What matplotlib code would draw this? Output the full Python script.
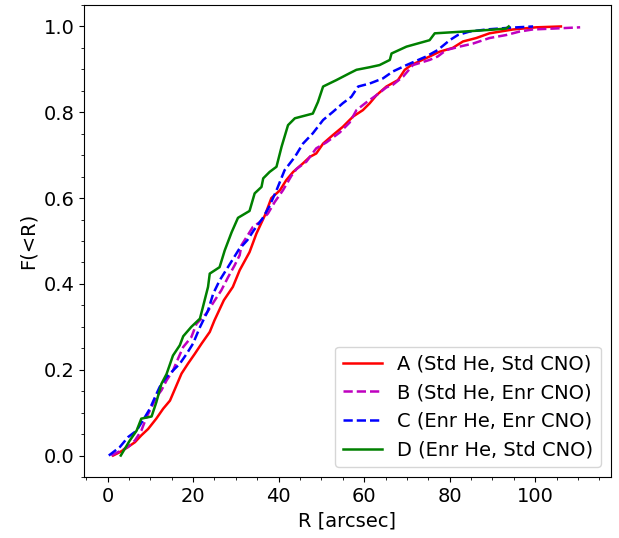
import numpy as np
import matplotlib
matplotlib.use("Agg")
import matplotlib.pyplot as plt

plt.rcParams.update({
    "font.size": 14,
})

# cumulative radial distributions (R in arcsec, F(<R))
R_A = [1.3, 2.9, 4.8, 6.4, 7.9, 9.5, 11.4, 13.0, 14.6, 16.1, 17.3, 18.8, 20.4,
       22.0, 23.9, 25.0, 27.2, 29.3, 30.9, 33.2, 34.8, 36.8, 38.3, 40.3, 41.8,
       43.4, 45.7, 47.3, 48.8, 50.4, 52.7, 55.0, 57.4, 59.7, 61.3, 62.9, 65.2,
       67.9, 69.5, 71.0, 75.3, 77.6, 80.7, 83.1, 86.2, 89.3, 94.8, 100.2, 106.0]
F_A = [0.0, 0.008, 0.02, 0.031, 0.047, 0.062, 0.086, 0.109, 0.128, 0.163, 0.191,
       0.214, 0.237, 0.261, 0.288, 0.315, 0.362, 0.393, 0.432, 0.474, 0.517,
       0.56, 0.6, 0.618, 0.642, 0.661, 0.681, 0.696, 0.704, 0.727, 0.747, 0.766,
       0.79, 0.805, 0.821, 0.84, 0.86, 0.875, 0.899, 0.91, 0.93, 0.941, 0.95,
       0.965, 0.973, 0.984, 0.993, 0.998, 1.0]

R_B = [0.9, 4.8, 6.4, 7.9, 9.1, 10.3, 11.4, 12.6, 13.8, 15.3, 16.5, 17.7, 19.6,
       20.8, 23.1, 25.1, 26.6, 28.2, 29.7, 30.9, 31.3, 32.5, 34.0, 35.6, 37.5,
       39.1, 41.0, 43.0, 44.2, 46.5, 48.8, 51.2, 54.3, 56.6, 58.2, 60.5, 62.9,
       65.2, 66.7, 69.1, 71.4, 75.3, 77.2, 79.2, 82.3, 85.4, 89.3, 93.2, 96.3,
       99.4, 104.1, 110.5]
F_B = [0.0, 0.02, 0.035, 0.058, 0.089, 0.113, 0.136, 0.152, 0.175, 0.198, 0.226,
       0.253, 0.276, 0.307, 0.331, 0.362, 0.385, 0.416, 0.443, 0.467, 0.49,
       0.509, 0.533, 0.544, 0.564, 0.591, 0.618, 0.652, 0.668, 0.685, 0.716,
       0.73, 0.753, 0.776, 0.805, 0.823, 0.84, 0.858, 0.864, 0.883, 0.91,
       0.922, 0.93, 0.945, 0.953, 0.96, 0.973, 0.98, 0.988, 0.993, 0.995, 0.998]

R_C = [0.3, 2.9, 4.8, 6.8, 8.7, 9.9, 11.1, 12.2, 13.8, 15.3, 16.9, 18.5, 20.0,
       21.6, 23.5, 24.7, 26.2, 28.4, 30.7, 32.7, 34.2, 36.2, 37.8, 39.5, 41.4,
       43.8, 45.7, 48.0, 50.4, 52.7, 55.0, 57.0, 58.6, 61.3, 64.4, 66.7, 69.9,
       74.5, 77.2, 80.0, 81.9, 84.6, 88.6, 94.0, 99.5]
F_C = [0.0, 0.02, 0.043, 0.058, 0.089, 0.109, 0.136, 0.16, 0.183, 0.198, 0.214,
       0.237, 0.261, 0.299, 0.338, 0.377, 0.408, 0.443, 0.48, 0.502, 0.525,
       0.552, 0.58, 0.618, 0.665, 0.696, 0.727, 0.751, 0.782, 0.801, 0.821,
       0.836, 0.86, 0.867, 0.879, 0.895, 0.91, 0.93, 0.945, 0.968, 0.98, 0.988,
       0.993, 0.997, 1.0]

R_D = [3.1, 5.2, 6.8, 7.9, 10.3, 11.4, 12.6, 13.8, 15.3, 16.9, 17.7, 19.6, 21.6,
       22.3, 23.5, 23.9, 26.2, 27.4, 29.0, 30.5, 33.2, 34.4, 36.0, 36.4, 37.9,
       39.5, 40.7, 42.2, 43.8, 48.0, 49.2, 50.4, 53.5, 56.6, 58.2, 61.3, 63.6,
       66.0, 66.4, 69.9, 75.3, 76.5, 83.1, 89.3, 93.2, 93.8]
F_D = [0.0, 0.035, 0.058, 0.086, 0.091, 0.124, 0.167, 0.19, 0.233, 0.257, 0.278,
       0.30, 0.319, 0.346, 0.393, 0.424, 0.439, 0.478, 0.52, 0.554, 0.57, 0.611,
       0.626, 0.646, 0.661, 0.673, 0.72, 0.77, 0.786, 0.797, 0.824, 0.86,
       0.875, 0.891, 0.899, 0.905, 0.91, 0.922, 0.937, 0.953, 0.968, 0.984,
       0.988, 0.992, 0.995, 1.0]

labels = ["A (Std He, Std CNO)", "B (Std He, Enr CNO)",
          "C (Enr He, Enr CNO)", "D (Enr He, Std CNO)"]

fig = plt.figure(figsize=(6.19, 5.38), dpi=100)
ax = fig.add_axes([0.1357, 0.1134, 0.8513, 0.8773])

ax.plot(R_A, F_A, 'r-', lw=1.8, label=labels[0])
ax.plot(R_B, F_B, 'm--', lw=1.8, label=labels[1])
ax.plot(R_C, F_C, 'b--', lw=1.8, label=labels[2])
ax.plot(R_D, F_D, 'g-', lw=1.8, label=labels[3])

ax.set_xlim(-5.5, 117.7)
ax.set_ylim(-0.05, 1.05)
ax.minorticks_on()
ax.set_xlabel("R [arcsec]")
ax.set_ylabel("F(<R)")
ax.legend(loc="lower right")

fig.savefig("out.png", dpi=100)
